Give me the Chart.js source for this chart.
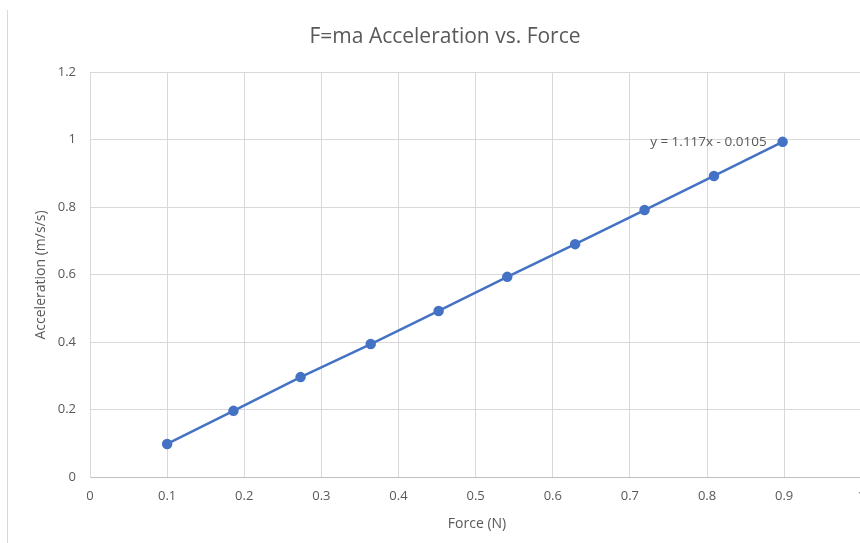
<!DOCTYPE html>
<html>
<head>
<meta charset="utf-8">
<script src="https://cdn.jsdelivr.net/npm/chart.js@4.4.0/dist/chart.umd.min.js"></script>
<style>
  html, body { margin: 0; padding: 0; background: #fff; overflow: hidden; }
  #wrap { width: 876px; height: 543px; position: relative; }
</style>
</head>
<body>
<div id="wrap"><canvas id="chart"></canvas></div>
<script>
// data
var forceN = [0.1, 0.186, 0.273, 0.364, 0.452, 0.541, 0.629, 0.719, 0.809, 0.898];
var accel = [0.098, 0.196, 0.296, 0.394, 0.492, 0.593, 0.690, 0.791, 0.892, 0.993];
var trendLabel = 'y = 1.117x - 0.0105';
var chartTitle = 'F=ma Acceleration vs. Force';
var xTitle = 'Force (N)';
var yTitle = 'Acceleration (m/s/s)';

var points = forceN.map(function(x, i) { return { x: x, y: accel[i] }; });
var txtColor = '#595959';
var fontFam = '"Open Sans", "Liberation Sans", sans-serif';

// frame, title, axis titles and trendline label
var decor = {
    id: 'decor',
    afterDraw: function(chart) {
        var c = chart.ctx, area = chart.chartArea;
        var xs = chart.scales.x, ys = chart.scales.y;
        c.save();
        c.strokeStyle = '#d9d9d9';
        c.lineWidth = 1;
        c.beginPath();
        c.moveTo(7.5, 10);
        c.lineTo(7.5, 543);
        c.stroke();

        c.fillStyle = txtColor;
        c.textAlign = 'center';
        c.textBaseline = 'middle';
        c.font = '21px ' + fontFam;
        c.fillText(chartTitle, 445, 37);

        c.font = '14px ' + fontFam;
        c.fillText(xTitle, 477, 524);

        c.save();
        c.translate(41, 275);
        c.rotate(-Math.PI / 2);
        c.fillText(yTitle, 0, 0);
        c.restore();

        var last = points[points.length - 1];
        c.font = '13.5px ' + fontFam;
        c.textAlign = 'right';
        c.fillText(trendLabel, xs.getPixelForValue(last.x) - 16, ys.getPixelForValue(last.y));
        c.restore();
    }
};

var ctx = document.getElementById('chart').getContext('2d');
var accelChart = new Chart(ctx, {
    type: 'scatter',
    data: {
        datasets: [{
            label: 'Acceleration',
            data: points,
            showLine: true,
            borderColor: '#4472C4',
            backgroundColor: '#4472C4',
            borderWidth: 2.5,
            pointRadius: 4,
            pointHoverRadius: 4
        }]
    },
    options: {
        responsive: true,
        maintainAspectRatio: false,
        animation: false,
        events: [],
        layout: { padding: { top: 72, left: 0, right: 0, bottom: 0 } },
        plugins: {
            legend: { display: false },
            title: { display: false },
            tooltip: { enabled: false }
        },
        scales: {
            x: {
                type: 'linear',
                min: 0,
                max: 1,
                ticks: {
                    stepSize: 0.1,
                    color: txtColor,
                    font: { family: fontFam, size: 13 },
                    padding: 11,
                    maxRotation: 0,
                    callback: function(v) { return Math.round(v * 10) / 10; }
                },
                grid: { color: '#d9d9d9', drawTicks: false },
                border: { color: '#bfbfbf' },
                afterFit: function(s) { s.height = 66; }
            },
            y: {
                min: 0,
                max: 1.2,
                ticks: {
                    stepSize: 0.2,
                    color: txtColor,
                    font: { family: fontFam, size: 13 },
                    padding: 14,
                    callback: function(v) { return Math.round(v * 10) / 10; }
                },
                grid: { color: '#d9d9d9', drawTicks: false },
                border: { color: '#d9d9d9' },
                afterFit: function(s) { s.width = 90; }
            }
        }
    },
    plugins: [decor]
});
</script>
</body>
</html>
